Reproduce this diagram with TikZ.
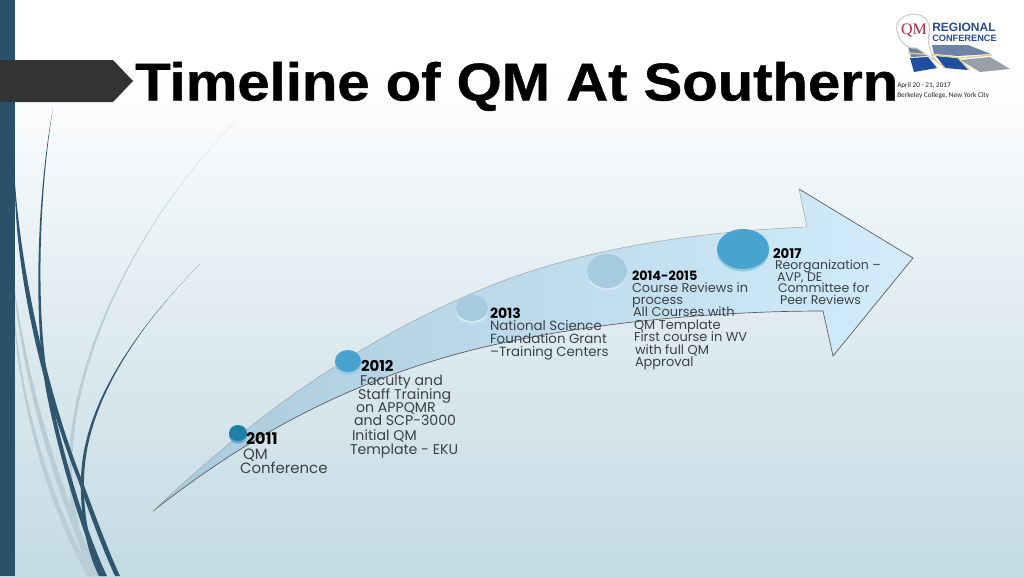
\documentclass[tikz,border=0pt]{standalone}
\usepackage{fontspec}
\setmainfont{Poppins}
\newfontfamily\titlefont[FakeBold=0.8]{Liberation Sans Bold}
\newfontfamily\logofont{Liberation Sans Bold}
\newfontfamily\qmfont{Liberation Serif}
\newfontfamily\datefont{Carlito}
\definecolor{barblue}{HTML}{2B5069}
\definecolor{wisp}{HTML}{2F566E}
\definecolor{wisplight}{HTML}{BBCDD4}
\definecolor{bgbottom}{HTML}{C4DBE3}
\definecolor{bgmid}{HTML}{DFEBF0}
\definecolor{txt}{HTML}{3A4248}
\definecolor{HTMLlogo}{HTML}{2B4A94}
\definecolor{HTMLarrowL}{HTML}{A9CADD}
\definecolor{HTMLarrowR}{HTML}{D2ECFA}
\definecolor{HTMLrimA}{HTML}{5FA9C6}
\definecolor{HTMLdA}{HTML}{1F7FA6}
\definecolor{HTMLrimB}{HTML}{8CCBE6}
\definecolor{HTMLdB}{HTML}{49A3CF}
\definecolor{HTMLrimC}{HTML}{D3E8F2}
\definecolor{HTMLdC}{HTML}{A6CBDF}
\definecolor{HTMLmapA}{HTML}{6F83A8}
\definecolor{HTMLmapB}{HTML}{1F4FA0}
\definecolor{HTMLmapC}{HTML}{9AA0A8}
\definecolor{HTMLmapD}{HTML}{E3CF86}
\definecolor{HTMLqm}{HTML}{A5274B}
\tikzset{
  x=0.75pt,y=-0.75pt,
  line/.style={font=\fontsize{#1}{12}\selectfont,text=txt,anchor=base west,inner sep=0pt,outer sep=0pt},
  yearlbl/.style={font=\fontsize{#1}{12}\selectfont\bfseries,text=black,anchor=base west,inner sep=0pt,outer sep=0pt},
  darkwisp/.style={fill=wisp,draw=none},
  lightwisp/.style={fill=wisplight,draw=none},
  logotxt/.style={font=\logofont\fontsize{9}{10}\selectfont,text=HTMLlogo,anchor=base west,inner sep=0pt},
  datetxt/.style={font=\datefont\fontsize{5.4}{7}\selectfont,text=black!85,anchor=base west,inner sep=0pt},
}
\newcommand{\disc}[6]{% x y rx ry rim top
  \fill[#5] (#1,#2+2.5) ellipse [x radius=#3, y radius=#4];
  \fill[#6] (#1,#2) ellipse [x radius=#3, y radius=#4];
}
\begin{document}
\begin{tikzpicture}
\useasboundingbox (0,0) rectangle (1024,576);
% background
\fill[white] (0,0) rectangle (1024,70);
\shade[top color=white,bottom color=bgbottom,middle color=bgmid] (0,70) rectangle (1024,576);
% wisps
\fill[lightwisp] (236,121) .. controls (150,205) and (55,370) .. (75,505) .. controls (78,530) and (85,555) .. (97,576) -- (92,576) .. controls (80,555) and (74,530) .. (71,505) .. controls (52,370) and (150,205) .. (236,121) -- cycle;
\fill[lightwisp] (15,292) .. controls (30,390) and (60,490) .. (100,576) -- (93,576) .. controls (55,490) and (25,390) .. (15,298) -- cycle;
\fill[lightwisp] (15,320) .. controls (22,400) and (50,500) .. (93,576) -- (87,576) .. controls (45,500) and (20,400) .. (15,330) -- cycle;
\fill[darkwisp] (53,108) .. controls (38,200) and (35,330) .. (52,400) .. controls (62,450) and (85,530) .. (107,576) -- (102,576) .. controls (80,530) and (58,450) .. (48,400) .. controls (33,330) and (36,200) .. (53,108) -- cycle;
\fill[darkwisp] (15,183) .. controls (22,280) and (50,400) .. (82,480) .. controls (95,515) and (108,550) .. (120,576) -- (115,576) .. controls (103,550) and (90,515) .. (78,480) .. controls (46,400) and (18,290) .. (15,195) -- cycle;
\fill[darkwisp] (200,264) .. controls (130,335) and (85,410) .. (84,480) .. controls (83,520) and (92,555) .. (104,576) -- (99,576) .. controls (88,555) and (80,520) .. (81,480) .. controls (82,410) and (130,335) .. (200,264) -- cycle;
% side bar and title tag
\fill[barblue] (0,0) rectangle (15,576);
\fill[black!80] (0,60) -- (113,60) -- (133,81) -- (113,102) -- (0,102) -- cycle;
% big arrow
\path[left color=HTMLarrowL,right color=HTMLarrowR]
  (153,511) .. controls (250,420) and (350,345) .. (480,290)
  .. controls (575,250) and (690,232) .. (807,227)
  -- (799,189) -- (913,258) -- (833,356) -- (823,311)
  .. controls (720,311) and (590,322) .. (480,348)
  .. controls (350,380) and (250,435) .. (153,511) -- cycle;
\draw[black!65,line width=0.5pt] (153,511) .. controls (250,435) and (350,380) .. (480,348) .. controls (590,322) and (720,311) .. (823,311) -- (833,356) -- (913,258) -- (799,189);
\draw[black!35,line width=0.4pt] (153,511) .. controls (250,420) and (350,345) .. (480,290) .. controls (575,250) and (690,232) .. (807,227) -- (799,189);
% discs
\disc{238}{433}{9}{8}{HTMLrimA}{HTMLdA}
\disc{348}{361}{13}{11}{HTMLrimB}{HTMLdB}
\disc{472}{308}{16}{13}{HTMLrimC}{HTMLdC}
\disc{607}{271}{20}{17}{HTMLrimC}{HTMLdC}
\disc{743}{249}{26}{20}{HTMLrimB}{HTMLdB}
% labels
\node[yearlbl=12] (y11) at (246,444) {2011};
\node[line=11.2] (a1) at (243,459) {QM};
\node[line=11.2] (a2) at (240,473) {Conference};
\node[yearlbl=11.2] (y12) at (361,371) {2012};
\node[line=10.6] (b1) at (360,385) {Faculty and};
\node[line=10.6] (b2) at (358,399) {Staff Training};
\node[line=10.6] (b3) at (356,412) {on APPQMR};
\node[line=10.6] (b4) at (354,425) {and SCP-3000};
\node[line=10.6] (b5) at (352,440) {Initial QM};
\node[line=10.6] (b6) at (350,454) {Template - EKU};
\node[yearlbl=10.5] (y13) at (490,318) {2013};
\node[line=10] (c1) at (490,330) {National Science};
\node[line=10] (c2) at (490,343) {Foundation Grant};
\node[line=10] (c3) at (490,356) {–Training Centers};
\node[yearlbl=9.6] (y14) at (632,280) {2014-2015};
\node[line=9.7] (d1) at (632,292) {Course Reviews in};
\node[line=9.7] (d2) at (632,304) {process};
\node[line=9.7] (d3) at (633,316) {All Courses with};
\node[line=9.7] (d4) at (634,329) {QM Template};
\node[line=9.7] (d5) at (634,341) {First course in WV};
\node[line=9.7] (d6) at (635,354) {with full QM};
\node[line=9.7] (d7) at (635,366) {Approval};
\node[yearlbl=10] (y17) at (773,258) {2017};
\node[line=9.4] (e1) at (775,269.5) {Reorganization –};
\node[line=9.4] (e2) at (777,281) {AVP, DE};
\node[line=9.4] (e3) at (778,292.5) {Committee for};
\node[line=9.4] (e4) at (780,304) {Peer Reviews};
% logo
\fill[HTMLmapA] (908,47) -- (925,45) -- (928,56) -- (911,57) -- cycle;
\fill[HTMLmapA] (932,45) -- (968,45) -- (991,54) -- (958,56) -- (934,54) -- cycle;
\fill[HTMLmapB] (910,58) -- (928,57) -- (937,68) -- (914,72) -- cycle;
\fill[HTMLmapB] (936,56) -- (958,58) -- (968,70) -- (945,68) -- cycle;
\fill[HTMLmapC] (960,60) -- (990,57) -- (1010,69) -- (980,72) -- cycle;
\draw[HTMLmapD,line width=1pt] (908,53) -- (935,55) -- (960,58) -- (992,55);
\draw[HTMLmapD,line width=1pt] (958,58) -- (970,70);
\draw[HTMLmapD,line width=1pt] (932,57) -- (945,68);
\filldraw[fill=white,draw=black!20,line width=0.8pt] (898,34) .. controls (892,22) and (904,14) .. (914,14) .. controls (925,14) and (932,24) .. (929,34) .. controls (927,42) and (930,50) .. (934,60) .. controls (926,55) and (921,50) .. (916,48) .. controls (907,49) and (900,42) .. (898,34) -- cycle;
\node[font=\qmfont\fontsize{12}{13}\selectfont,text=HTMLqm,inner sep=0pt] (qm) at (914,30) {QM};
\node[logotxt] (lg1) at (932,31) {REGIONAL};
\node[logotxt,font=\logofont\fontsize{6.9}{8}\selectfont] (lg2) at (932,41.5) {CONFERENCE};
\node[datetxt] (dt1) at (897,87) {April 20 - 21, 2017};
\node[datetxt] (dt2) at (897,97) {Berkeley College, New York City};
\node[font=\titlefont\fontsize{40}{44}\selectfont,anchor=base west,inner sep=0pt,text=black] (title) at (135,100.5) {\scalebox{1.088}[1]{Timeline of QM At Southern}};
\end{tikzpicture}
\end{document}
